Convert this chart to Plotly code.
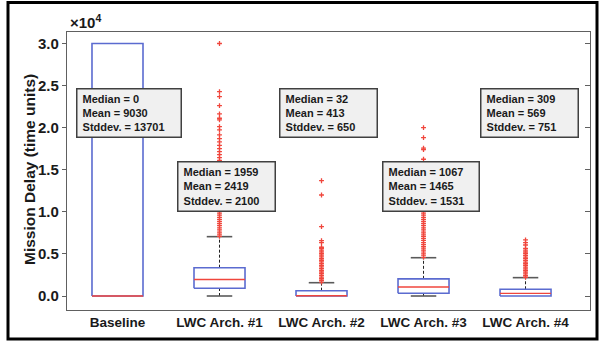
import plotly.graph_objects as go

# ---- data -------------------------------------------------------------
categories = ["Baseline", "LWC Arch. #1", "LWC Arch. #2", "LWC Arch. #3", "LWC Arch. #4"]

medians = [0, 1959, 32, 1067, 309]
means = [9030, 2419, 413, 1465, 569]
stddevs = [13701, 2100, 650, 1531, 751]

q1 = [0, 915, 0, 320, 0]
q3 = [30000, 3365, 630, 2040, 800]
whisker_lo = [0, 0, 0, 0, 0]
whisker_hi = [30000, 7050, 1580, 4550, 2180]

outliers_base = []
outliers_arch1 = [
    7100, 7350, 7600, 7850, 8100, 8350, 8600, 8850, 9100, 9350, 9600, 9850,
    10100, 10350, 10600, 10850, 11100, 11350, 11600, 11850, 12100, 12350,
    12600, 12850, 13100, 13350, 13600, 13850, 14100, 14350, 14600, 14850,
    15100, 15350, 15600, 15850, 16100, 16450, 16800, 17150, 17500, 17900,
    18300, 18700, 19140, 19730, 20120, 20920, 21120, 21630, 22620, 23690,
    24280, 30000,
]
outliers_arch2 = [
    1650, 1850, 2050, 2250, 2450, 2650, 2850, 3050, 3250, 3450, 3650, 3850,
    4050, 4250, 4450, 4650, 4850, 5050, 5250, 5450, 5650, 5790, 6340, 6570,
    8240, 12000, 13700,
]
outliers_arch3 = [
    4600, 4850, 5100, 5350, 5600, 5850, 6100, 6350, 6600, 6850, 7100, 7350,
    7600, 7850, 8100, 8350, 8600, 8850, 9100, 9350, 9600, 9850, 10100, 10350,
    10600, 10850, 11100, 11400, 11700, 12000, 12400, 12800, 13200, 13700,
    14200, 14800, 15400, 16250, 17400, 17560, 18820, 20000,
]
outliers_arch4 = [
    2230, 2430, 2630, 2830, 3030, 3230, 3430, 3630, 3830, 4030, 4230, 4430,
    4630, 4830, 5030, 5230, 5450, 5670, 6060, 6340, 6660,
]
outliers = [outliers_base, outliers_arch1, outliers_arch2, outliers_arch3, outliers_arch4]

y_tickvals = [0, 5000, 10000, 15000, 20000, 25000, 30000]
y_ticktext = ["0.0", "0.5", "1.0", "1.5", "2.0", "2.5", "3.0"]

# ---- styling ----------------------------------------------------------
FONT = "Arial, Liberation Sans, Helvetica, sans-serif"
BLUE = "#5b6bd0"
RED = "#f0463c"
GREY = "#5a5a5a"
AXIS = "#606060"
BOX_HALF = 0.25
CAP_HALF = 0.125

W, H = 599, 345
M_L, M_R, M_T, M_B = 67, 9, 32, 35
PW, PH = W - M_L - M_R, H - M_T - M_B


def px_x(px):
    return (px - M_L) / PW


def px_y(py):
    return (H - M_B - py) / PH


positions = list(range(1, len(categories) + 1))

box_x, box_y = [], []
med_x, med_y = [], []
wh_x, wh_y = [], []
cap_x, cap_y = [], []
out_x, out_y = [], []
for p, a, b, m, lo, hi, outs in zip(positions, q1, q3, medians, whisker_lo, whisker_hi, outliers):
    box_x += [p - BOX_HALF, p + BOX_HALF, p + BOX_HALF, p - BOX_HALF, p - BOX_HALF, None]
    box_y += [a, a, b, b, a, None]
    med_x += [p - BOX_HALF, p + BOX_HALF, None]
    med_y += [m, m, None]
    # whiskers and caps only where they extend past the box
    if hi > b:
        wh_x += [p, p, None]
        wh_y += [b, hi, None]
        cap_x += [p - CAP_HALF, p + CAP_HALF, None]
        cap_y += [hi, hi, None]
    if lo < a:
        wh_x += [p, p, None]
        wh_y += [lo, a, None]
        cap_x += [p - CAP_HALF, p + CAP_HALF, None]
        cap_y += [lo, lo, None]
    out_x += [p] * len(outs)
    out_y += outs

fig = go.Figure()
fig.add_trace(go.Scatter(x=wh_x, y=wh_y, mode="lines",
                         line=dict(color="#222222", width=1, dash="3px,2px"),
                         hoverinfo="skip", showlegend=False))
fig.add_trace(go.Scatter(x=cap_x, y=cap_y, mode="lines",
                         line=dict(color=GREY, width=1.6),
                         hoverinfo="skip", showlegend=False))
fig.add_trace(go.Scatter(x=box_x, y=box_y, mode="lines",
                         line=dict(color=BLUE, width=1.6),
                         hoverinfo="skip", showlegend=False))
fig.add_trace(go.Scatter(x=med_x, y=med_y, mode="lines",
                         line=dict(color=RED, width=1.3),
                         hoverinfo="skip", showlegend=False))
fig.add_trace(go.Scatter(x=out_x, y=out_y, mode="markers",
                         marker=dict(symbol="cross-thin", size=3.5,
                                     line=dict(color=RED, width=1.3)),
                         hoverinfo="skip", showlegend=False))
# right-hand axis carrying the inward ticks
fig.add_trace(go.Scatter(x=[None], y=[None], yaxis="y2", showlegend=False, hoverinfo="skip"))

y_range = [-1663, 31366]

fig.update_layout(
    width=W, height=H,
    margin=dict(l=M_L, r=M_R, t=M_T, b=M_B),
    paper_bgcolor="white", plot_bgcolor="white",
    font=dict(family=FONT, color="#1a1a1a"),
    xaxis=dict(range=[0.505, 5.632], tickvals=positions, ticktext=categories,
               showline=True, mirror=True, linecolor=AXIS, linewidth=1.3,
               ticks="", showgrid=False, zeroline=False,
               tickfont=dict(family=FONT, size=13.5, weight="bold", color="#1a1a1a")),
    yaxis=dict(range=y_range, tickvals=y_tickvals, ticktext=y_ticktext,
               showline=True, mirror=True, linecolor=AXIS, linewidth=1.3,
               ticks="outside", ticklen=4, tickcolor=AXIS, tickwidth=1.3,
               showgrid=False, zeroline=False,
               tickfont=dict(family=FONT, size=15, weight="bold", color="#1a1a1a")),
    yaxis2=dict(range=y_range, tickvals=y_tickvals, overlaying="y", side="right",
                showticklabels=False, ticks="inside", ticklen=5, tickcolor=AXIS,
                tickwidth=1.3, showline=False, showgrid=False, zeroline=False),
)

# outer frame
fig.add_shape(type="rect", xref="paper", yref="paper",
              x0=px_x(8), x1=px_x(597), y0=px_y(339), y1=px_y(2.5),
              line=dict(color="black", width=3), fillcolor="rgba(0,0,0,0)")

# exponent label and y-axis title
fig.add_annotation(xref="paper", yref="paper", x=px_x(68), y=px_y(21),
                   xanchor="left", yanchor="middle", showarrow=False,
                   text="<b>×10<sup>4</sup></b>",
                   font=dict(family=FONT, size=15, color="#1a1a1a"))
fig.add_annotation(xref="paper", yref="paper", x=px_x(29), y=px_y(170),
                   xanchor="center", yanchor="middle", showarrow=False,
                   textangle=-90, text="<b>Mission Delay (time units)</b>",
                   font=dict(family=FONT, size=15.5, color="#1a1a1a"))

# statistics text boxes (left, top, right, bottom in pixels)
stat_boxes = [
    (75.7, 88, 181.7, 137.7),
    (177, 161, 276, 211.7),
    (279, 88, 378, 138),
    (381.7, 161, 480, 211.7),
    (480, 88, 579, 138),
]
for (l, t, r, b), m, mu, sd in zip(stat_boxes, medians, means, stddevs):
    pad, bw = 2, 1.5
    lines = [f"Median = {m}", f"Mean = {mu}", f"Stddev. = {sd}"]
    fig.add_annotation(
        xref="paper", yref="paper", x=px_x(l), y=px_y(t),
        xanchor="left", yanchor="top", showarrow=False,
        text="<b>" + "<br>".join("&nbsp;" + s for s in lines) + "</b>",
        align="left", valign="middle",
        width=(r - l) - 2 * pad - 2 * bw, height=(b - t) - 2 * pad - 2 * bw,
        bgcolor="#f0f0f0", bordercolor="#404040", borderwidth=bw, borderpad=pad,
        font=dict(family=FONT, size=11, color="#1a1a1a"),
    )

fig.write_html("out.html")
